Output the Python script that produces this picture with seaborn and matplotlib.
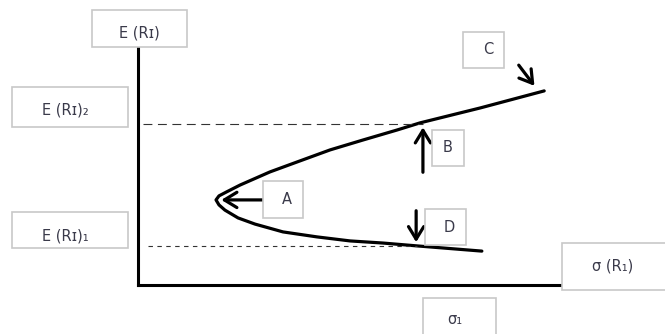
import matplotlib
matplotlib.use("Agg")
import matplotlib.pyplot as plt
import matplotlib.patches as mpatches
import pandas as pd
import seaborn as sns

# Frontier (sigma on x, expected return on y, axis units 0-10).
# Path runs from the upper end (C) through the vertex (A) to the lower end.
frontier_sigma = [9.58, 8.07, 6.65, 6.11, 5.31, 4.53, 3.75, 3.11, 2.41, 2.08, 1.91, 1.84,
                  1.91, 2.05, 2.36, 2.76, 3.42, 4.22, 5.00, 5.78, 6.58, 8.11]
frontier_return = [8.19, 7.47, 6.84, 6.54, 6.12, 5.70, 5.19, 4.77, 4.22, 3.92, 3.76, 3.59,
                   3.38, 3.16, 2.83, 2.57, 2.24, 2.03, 1.86, 1.77, 1.65, 1.43]

# Reference levels: E(Ri)2 at point B, E(Ri)1 at point D
level_returns = [6.79, 1.65]
level_sigmas = [6.72, 6.58]

box_labels = ["E (Rɪ)", "E (Rɪ)₂", "E (Rɪ)₁", "A", "B", "C", "D", "σ (R₁)", "σ₁"]

W, H = 665, 334
sns.set_style("white")
fig = plt.figure(figsize=(W / 100, H / 100), dpi=100)
ax = fig.add_axes([138 / W, (H - 285) / H, 424 / W, 237 / H])

df = pd.DataFrame({"sigma": frontier_sigma, "ret": frontier_return})
sns.lineplot(data=df, x="sigma", y="ret", sort=False, estimator=None,
             color="black", lw=2.3, solid_joinstyle="round", ax=ax)

# dashed guides from the axis to B and D
ax.plot([0.12, level_sigmas[0]], [level_returns[0]] * 2, color="#333333",
        lw=0.8, dashes=(8, 5))
ax.plot([0.24, level_sigmas[1]], [level_returns[1]] * 2, color="#333333",
        lw=0.8, dashes=(4, 4))

ax.set_xlim(0, 10)
ax.set_ylim(0, 10)
ax.set_xticks([])
ax.set_yticks([])
ax.set_xlabel("")
ax.set_ylabel("")
for side in ["top", "right"]:
    ax.spines[side].set_visible(False)
for side in ["left", "bottom"]:
    ax.spines[side].set_color("black")
    ax.spines[side].set_linewidth(2.2)

# arrows pointing at the frontier
arrow = dict(arrowstyle="->,head_length=0.9,head_width=0.55", color="black", lw=2.3)
ax.annotate("", xy=(1.90, 3.59), xytext=(3.26, 3.59), arrowprops=arrow)
ax.annotate("", xy=(6.72, 6.77), xytext=(6.72, 4.64), arrowprops=arrow)
ax.annotate("", xy=(6.56, 1.69), xytext=(6.56, 3.25), arrowprops=arrow)
ax.annotate("", xy=(9.39, 8.31), xytext=(8.94, 9.37), arrowprops=arrow)


def label_box(x0, y0, x1, y1, tx, ty, text):
    # pixel coordinates, origin at the top-left of the image
    rect = mpatches.Rectangle((x0 / W, 1 - y1 / H), (x1 - x0) / W, (y1 - y0) / H,
                              transform=fig.transFigure, facecolor="white",
                              edgecolor="#c8c8c8", lw=1.2, zorder=5)
    fig.patches.append(rect)
    fig.text(tx / W, 1 - ty / H, text, ha="center", va="center",
             fontsize=10.5, color="#3a3a4a", zorder=6)


label_box(92, 10, 187, 47, 139, 33, box_labels[0])
label_box(12, 87, 128, 127, 65, 110, box_labels[1])
label_box(12, 212, 128, 248, 65, 236, box_labels[2])
label_box(263, 181, 303, 218, 287, 200, box_labels[3])
label_box(432, 130, 464, 166, 448, 147, box_labels[4])
label_box(463, 32, 504, 68, 488, 50, box_labels[5])
label_box(425, 209, 466, 245, 449, 227, box_labels[6])
label_box(562, 243, 668, 290, 613, 266, box_labels[7])
label_box(423, 298, 496, 340, 455, 320, box_labels[8])

fig.savefig("out.png", dpi=100)
